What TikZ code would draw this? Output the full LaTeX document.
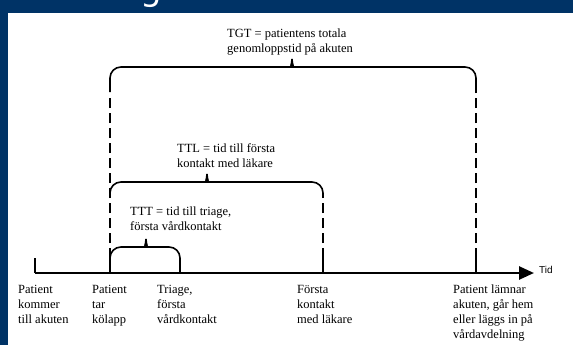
\documentclass[tikz,border=0pt]{standalone}
\usepackage{fontspec}
\setmainfont{Liberation Serif}
\newfontfamily\rubrikfont{DejaVu Sans}
\newfontfamily\axelfont{Liberation Sans}
\usetikzlibrary{arrows.meta}
\definecolor{bildbla}{HTML}{003366}

% klammer: x1, x2, xmitt, yhorisontell, yben
\newcommand\klammer[5]{%
  \draw[klammerlinje] (#1,#5) -- (#1,#4) -- (#3-10,#4) .. controls (#3-3,#4) and (#3,#4-2) .. (#3,#4-8);
  \draw[klammerlinje] (#2,#5) -- (#2,#4) -- (#3+10,#4) .. controls (#3+3,#4) and (#3,#4-2) .. (#3,#4-8);
}

\begin{document}
\begin{tikzpicture}[x=1pt, y=-1pt,
  tidsaxel/.style={line width=2.6pt, -{Triangle[length=15pt,width=13pt]}},
  klammerlinje/.style={line width=1.6pt, rounded corners=11pt},
  streckad/.style={line width=2pt, dash pattern=on 10pt off 5pt},
  markering/.style={line width=2pt},
  etikett/.style={anchor=north west, inner sep=0pt, align=left, font=\fontsize{12.5}{15}\selectfont}]

    % bakgrund
    \fill[bildbla] (0,0) rectangle (573,345);
    \fill[white] (8,13) rectangle (573,345);
    \useasboundingbox (0,0) rectangle (573,345);
    \begin{scope}
        \clip (0,0) rectangle (573,13);
        \node[anchor=base west, inner sep=0pt, text=white, font=\rubrikfont\fontsize{34}{34}\selectfont] (rubrik) at (140,1) {g};
    \end{scope}

    % tidsaxel
    \coordinate (ankomst) at (35,273);
    \coordinate (kolapp) at (110,273);
    \coordinate (triage) at (180,273);
    \coordinate (lakare) at (323,273);
    \coordinate (lamnar) at (476,273);
    \coordinate (axelslut) at (534,273);

    \draw[streckad] (kolapp) -- ++(0,-178);
    \draw[streckad] (lakare) -- ++(0,-76);
    \draw[streckad] (lamnar) -- ++(0,-193);

    \draw[markering] (ankomst) -- ++(0,-15);
    \draw[markering] (lakare) -- ++(0,-15);
    \draw[markering] (lamnar) -- ++(0,-15);
    \draw[tidsaxel] (ankomst) -- (axelslut);
    \node[anchor=west, inner sep=0pt, font=\axelfont\fontsize{10}{10}\selectfont] (tid) at (539,270) {Tid};

    % klammrar
    \klammer{110}{476}{292}{67}{92}
    \klammer{110}{323}{207}{182}{197}
    \klammer{110}{180}{146}{247}{273}

    \node[etikett] (tgt) at (227,29) {TGT = patientens totala\\genomloppstid på akuten};
    \node[etikett] (ttl) at (177,143) {TTL = tid till första\\kontakt med läkare};
    \node[etikett] (ttt) at (130,207) {TTT = tid till triage,\\första vårdkontakt};

    \node[etikett] (kommer) at (18,285) {Patient\\kommer\\till akuten};
    \node[etikett] (tar) at (92,285) {Patient\\tar\\kölapp};
    \node[etikett] (forsta) at (157,285) {Triage,\\första\\vårdkontakt};
    \node[etikett] (kontakt) at (297,285) {Första\\kontakt\\med läkare};
    \node[etikett] (lamnartext) at (453,285) {Patient lämnar\\akuten, går hem\\eller läggs in på\\vårdavdelning};

\end{tikzpicture}
\end{document}
